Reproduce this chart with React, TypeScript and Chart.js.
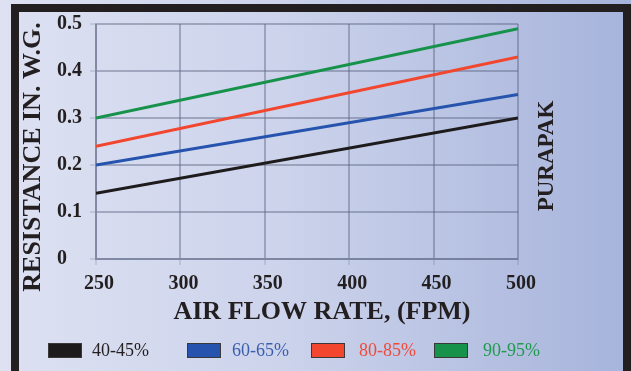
import React, { useEffect, useRef } from 'react';
import { Chart, registerables } from 'chart.js';

Chart.register(...registerables);

// ---- data ----
const airFlowRates = [250, 500];
const resistance4045 = [0.14, 0.30];
const resistance6065 = [0.20, 0.35];
const resistance8085 = [0.24, 0.43];
const resistance9095 = [0.30, 0.49];
const seriesLabels = ['40-45%', '60-65%', '80-85%', '90-95%'];
const xTickValues = [250, 300, 350, 400, 450, 500];
const yTickValues = [0, 0.1, 0.2, 0.3, 0.4, 0.5];
const xTitle = 'AIR FLOW RATE, (FPM)';
const yTitle = 'RESISTANCE IN. W.G.';
const sideLabel = 'PURAPAK';

// ---- styles ----
const lineColors = ['#1d1b1c', '#2553ad', '#f2462e', '#16924a'];
const legendTextColors = ['#231f20', '#3b5fae', '#ef4a3a', '#1f9a4e'];
const legendBoxLefts = [48, 187, 311, 434];
const legendTextLefts = [92, 232, 359, 483];
const SERIF = '"Liberation Serif", "Times New Roman", serif';
const INK = '#231f20';
const GRID = 'rgba(85, 95, 125, 0.42)';

const sideTextPlugin = {
  id: 'sideTexts',
  afterDraw(chart: any) {
    const { ctx, chartArea } = chart;
    ctx.save();
    ctx.fillStyle = INK;
    ctx.textAlign = 'center';
    ctx.textBaseline = 'middle';
    ctx.font = `bold 26px ${SERIF}`;
    ctx.fillText(xTitle, chartArea.left + 226, chartArea.bottom + 53);
    ctx.save();
    ctx.translate(chartArea.left - 63, 157);
    ctx.rotate(-Math.PI / 2);
    ctx.fillText(yTitle, 0, 0);
    ctx.restore();
    ctx.font = `bold 23px ${SERIF}`;
    ctx.save();
    ctx.translate(chartArea.right + 29, 156);
    ctx.rotate(-Math.PI / 2);
    ctx.fillText(sideLabel, 0, 0);
    ctx.restore();
    ctx.restore();
  },
};

export default function App() {
  const canvasRef = useRef<HTMLCanvasElement | null>(null);

  useEffect(() => {
    const canvas = canvasRef.current;
    if (!canvas) return;
    const allSeries = [resistance4045, resistance6065, resistance8085, resistance9095];
    const chart = new Chart(canvas, {
      type: 'line',
      data: {
        datasets: allSeries.map((vals, i) => ({
          label: seriesLabels[i],
          data: airFlowRates.map((x, j) => ({ x, y: vals[j] })),
          borderColor: lineColors[i],
          backgroundColor: lineColors[i],
          borderWidth: 3,
          pointRadius: 0,
          fill: false,
          tension: 0,
        })),
      },
      options: {
        responsive: false,
        animation: false,
        layout: { padding: { left: 57, top: 24, right: 113, bottom: 40 } },
        plugins: { legend: { display: false }, tooltip: { enabled: false } },
        scales: {
          x: {
            type: 'linear',
            min: 250,
            max: 500,
            afterBuildTicks: (s: any) => {
              s.ticks = xTickValues.map((v) => ({ value: v }));
            },
            afterFit: (s: any) => {
              s.height = 72;
            },
            grid: { color: GRID, lineWidth: 2, tickLength: 6, tickColor: 'rgba(85,95,125,0.18)' },
            border: { color: GRID, width: 2 },
            ticks: {
              font: { family: SERIF, size: 20, weight: 'bold' },
              color: INK,
              padding: 7,
              labelOffset: 3,
              maxRotation: 0,
            },
          },
          y: {
            type: 'linear',
            min: 0,
            max: 0.5,
            afterBuildTicks: (s: any) => {
              s.ticks = yTickValues.map((v) => ({ value: v }));
            },
            afterFit: (s: any) => {
              s.width = 39;
            },
            grid: { color: GRID, lineWidth: 2, tickLength: 6, tickColor: 'rgba(85,95,125,0.18)' },
            border: { color: GRID, width: 2 },
            ticks: {
              font: { family: SERIF, size: 20, weight: 'bold' },
              color: INK,
              crossAlign: 'far',
              callback: (v: any) => String(Math.round(Number(v) * 10) / 10),
            },
          },
        },
      },
      plugins: [sideTextPlugin],
    } as any);
    return () => chart.destroy();
  }, []);

  return (
    <div
      style={{
        position: 'fixed',
        left: 0,
        top: 0,
        width: 631,
        height: 371,
        overflow: 'hidden',
        background: 'linear-gradient(to right, #dde1f2 0%, #ccd3eb 45%, #a6b3db 100%)',
      }}
    >
      <canvas ref={canvasRef} width={631} height={371} style={{ position: 'absolute', left: 0, top: 0 }} />
      {seriesLabels.map((label, i) => (
        <React.Fragment key={label}>
          <div
            style={{
              position: 'absolute',
              left: legendBoxLefts[i],
              top: 343,
              width: 34,
              height: 15,
              boxSizing: 'border-box',
              border: '1.5px solid #3a3838',
              background: lineColors[i],
            }}
          />
          <div
            style={{
              position: 'absolute',
              left: legendTextLefts[i],
              top: 340,
              fontFamily: SERIF,
              fontSize: 18,
              lineHeight: '20px',
              color: legendTextColors[i],
              whiteSpace: 'nowrap',
            }}
          >
            {label}
          </div>
        </React.Fragment>
      ))}
      <div
        style={{
          position: 'absolute',
          left: 11,
          top: 4,
          width: 620,
          height: 375,
          boxSizing: 'border-box',
          border: '8px solid #231f20',
          pointerEvents: 'none',
        }}
      />
    </div>
  );
}
